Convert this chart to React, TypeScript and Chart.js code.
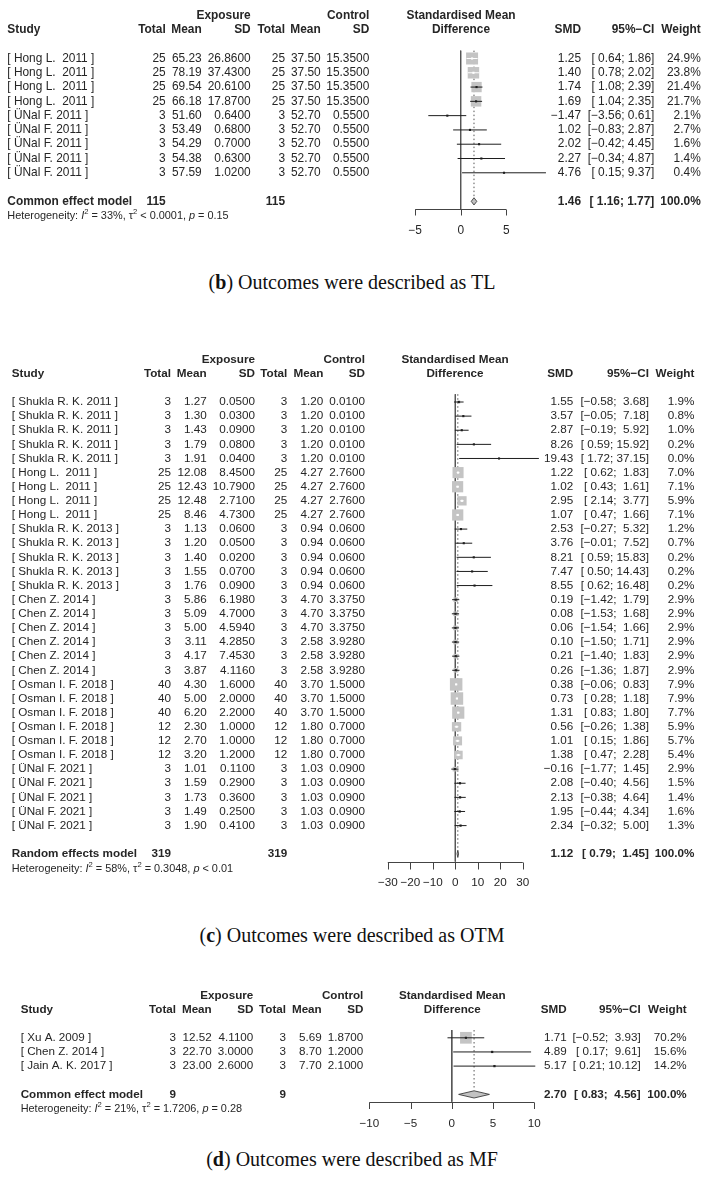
import React, { useEffect, useRef } from "react";
import { Chart, registerables } from "chart.js";

Chart.register(...registerables);

const FONT = '"Liberation Sans", Arial, Helvetica, sans-serif';
const INK = "#262626";

// ---------------- Panel (b): TL ----------------
const bStudies = ["[ Hong L.  2011 ]", "[ Hong L.  2011 ]", "[ Hong L.  2011 ]", "[ Hong L.  2011 ]", "[ ÜNal F. 2011 ]", "[ ÜNal F. 2011 ]", "[ ÜNal F. 2011 ]", "[ ÜNal F. 2011 ]", "[ ÜNal F. 2011 ]"];
const bExpTotal = [25, 25, 25, 25, 3, 3, 3, 3, 3];
const bExpMean = [65.23, 78.19, 69.54, 66.18, 51.6, 53.49, 54.29, 54.38, 57.59];
const bExpSD = [26.86, 37.43, 20.61, 17.87, 0.64, 0.68, 0.7, 0.63, 1.02];
const bCtrlTotal = [25, 25, 25, 25, 3, 3, 3, 3, 3];
const bCtrlMean = [37.5, 37.5, 37.5, 37.5, 52.7, 52.7, 52.7, 52.7, 52.7];
const bCtrlSD = [15.35, 15.35, 15.35, 15.35, 0.55, 0.55, 0.55, 0.55, 0.55];
const bSMD = [1.25, 1.4, 1.74, 1.69, -1.47, 1.02, 2.02, 2.27, 4.76];
const bLower = [0.64, 0.78, 1.08, 1.04, -3.56, -0.83, -0.42, -0.34, 0.15];
const bUpper = [1.86, 2.02, 2.39, 2.35, 0.61, 2.87, 4.45, 4.87, 9.37];
const bWeight = [24.9, 23.8, 21.4, 21.7, 2.1, 2.7, 1.6, 1.4, 0.4];
const bPooled = [1.46, 1.16, 1.77];
const bTotals = [115, 115];
const bTicks = [-5, 0, 5];
const bHet = ["33%", "< 0.0001", "= 0.15"];

// ---------------- Panel (c): OTM ----------------
const cStudies = [
  "[ Shukla R. K. 2011 ]", "[ Shukla R. K. 2011 ]", "[ Shukla R. K. 2011 ]", "[ Shukla R. K. 2011 ]", "[ Shukla R. K. 2011 ]",
  "[ Hong L.  2011 ]", "[ Hong L.  2011 ]", "[ Hong L.  2011 ]", "[ Hong L.  2011 ]",
  "[ Shukla R. K. 2013 ]", "[ Shukla R. K. 2013 ]", "[ Shukla R. K. 2013 ]", "[ Shukla R. K. 2013 ]", "[ Shukla R. K. 2013 ]",
  "[ Chen Z. 2014 ]", "[ Chen Z. 2014 ]", "[ Chen Z. 2014 ]", "[ Chen Z. 2014 ]", "[ Chen Z. 2014 ]", "[ Chen Z. 2014 ]",
  "[ Osman I. F. 2018 ]", "[ Osman I. F. 2018 ]", "[ Osman I. F. 2018 ]", "[ Osman I. F. 2018 ]", "[ Osman I. F. 2018 ]", "[ Osman I. F. 2018 ]",
  "[ ÜNal F. 2021 ]", "[ ÜNal F. 2021 ]", "[ ÜNal F. 2021 ]", "[ ÜNal F. 2021 ]", "[ ÜNal F. 2021 ]",
];
const cExpTotal = [3, 3, 3, 3, 3, 25, 25, 25, 25, 3, 3, 3, 3, 3, 3, 3, 3, 3, 3, 3, 40, 40, 40, 12, 12, 12, 3, 3, 3, 3, 3];
const cExpMean = [1.27, 1.3, 1.43, 1.79, 1.91, 12.08, 12.43, 12.48, 8.46, 1.13, 1.2, 1.4, 1.55, 1.76, 5.86, 5.09, 5.0, 3.11, 4.17, 3.87, 4.3, 5.0, 6.2, 2.3, 2.7, 3.2, 1.01, 1.59, 1.73, 1.49, 1.9];
const cExpSD = [0.05, 0.03, 0.09, 0.08, 0.04, 8.45, 10.79, 2.71, 4.73, 0.06, 0.05, 0.02, 0.07, 0.09, 6.198, 4.7, 4.594, 4.285, 7.453, 4.116, 1.6, 2.0, 2.2, 1.0, 1.0, 1.2, 0.11, 0.29, 0.36, 0.25, 0.41];
const cCtrlTotal = [3, 3, 3, 3, 3, 25, 25, 25, 25, 3, 3, 3, 3, 3, 3, 3, 3, 3, 3, 3, 40, 40, 40, 12, 12, 12, 3, 3, 3, 3, 3];
const cCtrlMean = [1.2, 1.2, 1.2, 1.2, 1.2, 4.27, 4.27, 4.27, 4.27, 0.94, 0.94, 0.94, 0.94, 0.94, 4.7, 4.7, 4.7, 2.58, 2.58, 2.58, 3.7, 3.7, 3.7, 1.8, 1.8, 1.8, 1.03, 1.03, 1.03, 1.03, 1.03];
const cCtrlSD = [0.01, 0.01, 0.01, 0.01, 0.01, 2.76, 2.76, 2.76, 2.76, 0.06, 0.06, 0.06, 0.06, 0.06, 3.375, 3.375, 3.375, 3.928, 3.928, 3.928, 1.5, 1.5, 1.5, 0.7, 0.7, 0.7, 0.09, 0.09, 0.09, 0.09, 0.09];
const cSMD = [1.55, 3.57, 2.87, 8.26, 19.43, 1.22, 1.02, 2.95, 1.07, 2.53, 3.76, 8.21, 7.47, 8.55, 0.19, 0.08, 0.06, 0.1, 0.21, 0.26, 0.38, 0.73, 1.31, 0.56, 1.01, 1.38, -0.16, 2.08, 2.13, 1.95, 2.34];
const cLower = [-0.58, -0.05, -0.19, 0.59, 1.72, 0.62, 0.43, 2.14, 0.47, -0.27, -0.01, 0.59, 0.5, 0.62, -1.42, -1.53, -1.54, -1.5, -1.4, -1.36, -0.06, 0.28, 0.83, -0.26, 0.15, 0.47, -1.77, -0.4, -0.38, -0.44, -0.32];
const cUpper = [3.68, 7.18, 5.92, 15.92, 37.15, 1.83, 1.61, 3.77, 1.66, 5.32, 7.52, 15.83, 14.43, 16.48, 1.79, 1.68, 1.66, 1.71, 1.83, 1.87, 0.83, 1.18, 1.8, 1.38, 1.86, 2.28, 1.45, 4.56, 4.64, 4.34, 5.0];
const cWeight = [1.9, 0.8, 1.0, 0.2, 0.0, 7.0, 7.1, 5.9, 7.1, 1.2, 0.7, 0.2, 0.2, 0.2, 2.9, 2.9, 2.9, 2.9, 2.9, 2.9, 7.9, 7.9, 7.7, 5.9, 5.7, 5.4, 2.9, 1.5, 1.4, 1.6, 1.3];
const cPooled = [1.12, 0.79, 1.45];
const cTotals = [319, 319];
const cTicks = [-30, -20, -10, 0, 10, 20, 30];
const cHet = ["58%", "= 0.3048", "< 0.01"];

// ---------------- Panel (d): MF ----------------
const dStudies = ["[ Xu A. 2009 ]", "[ Chen Z. 2014 ]", "[ Jain A. K. 2017 ]"];
const dExpTotal = [3, 3, 3];
const dExpMean = [12.52, 22.7, 23.0];
const dExpSD = [4.11, 3.0, 2.6];
const dCtrlTotal = [3, 3, 3];
const dCtrlMean = [5.69, 8.7, 7.7];
const dCtrlSD = [1.87, 1.2, 2.1];
const dSMD = [1.71, 4.89, 5.17];
const dLower = [-0.52, 0.17, 0.21];
const dUpper = [3.93, 9.61, 10.12];
const dWeight = [70.2, 15.6, 14.2];
const dPooled = [2.7, 0.83, 4.56];
const dTotals = [9, 9];
const dTicks = [-10, -5, 0, 5, 10];
const dHet = ["21%", "= 1.7206", "= 0.28"];

// ---------------- helpers ----------------
function fmt(v: number, d: number) {
  const s = Math.abs(v).toFixed(d);
  return (v < 0 ? "\u2212" : "") + s;
}
function pad(s: string, w: number) {
  return s.length >= w ? s : " ".repeat(w - s.length) + s;
}

const panelB = {
  studies: bStudies, expTotal: bExpTotal, expMean: bExpMean, expSD: bExpSD,
  ctrlTotal: bCtrlTotal, ctrlMean: bCtrlMean, ctrlSD: bCtrlSD,
  smd: bSMD, lower: bLower, upper: bUpper, weight: bWeight,
  pooled: bPooled, totals: bTotals, ticks: bTicks, het: bHet, model: "Common effect model",
  top: 0, height: 250, row0: 57.3, rowH: 14.4, axisRow: 10.55, summaryRow: 10, hetRow: 11,
  xLeft: 415.2, xRight: 506.2, font: 11.9, hetFont: 10.9, labelGap: 21, tickLen: 6, maxSide: 12,
  cols: { study: 7.3, expTotal: 165.7, expMean: 201.7, expSD: 250.7, ctrlTotal: 285, ctrlMean: 320.7, ctrlSD: 369.3, center: 461, smd: 581, ci: 654.3, weight: 700.7 },
};
const panelC = {
  studies: cStudies, expTotal: cExpTotal, expMean: cExpMean, expSD: cExpSD,
  ctrlTotal: cCtrlTotal, ctrlMean: cCtrlMean, ctrlSD: cCtrlSD,
  smd: cSMD, lower: cLower, upper: cUpper, weight: cWeight,
  pooled: cPooled, totals: cTotals, ticks: cTicks, het: cHet, model: "Random effects model",
  top: 330, height: 570, row0: 402, rowH: 14.12, axisRow: 32.55, summaryRow: 32, hetRow: 33.1,
  xLeft: 387.8, xRight: 522.8, font: 11.7, hetFont: 10.9, labelGap: 20, tickLen: 7, maxSide: 12.5,
  cols: { study: 11.7, expTotal: 171, expMean: 206.7, expSD: 255, ctrlTotal: 287.3, ctrlMean: 323.3, ctrlSD: 365, center: 455, smd: 573.3, ci: 649, weight: 694.3 },
};
const panelD = {
  studies: dStudies, expTotal: dExpTotal, expMean: dExpMean, expSD: dExpSD,
  ctrlTotal: dCtrlTotal, ctrlMean: dCtrlMean, ctrlSD: dCtrlSD,
  smd: dSMD, lower: dLower, upper: dUpper, weight: dWeight,
  pooled: dPooled, totals: dTotals, ticks: dTicks, het: dHet, model: "Common effect model",
  top: 960, height: 180, row0: 1037.8, rowH: 14.15, axisRow: 4.52, summaryRow: 4, hetRow: 5,
  xLeft: 369.3, xRight: 534.3, font: 11.65, hetFont: 10.9, labelGap: 21, tickLen: 6.5, maxSide: 11.7,
  cols: { study: 20.7, expTotal: 176, expMean: 211.7, expSD: 253.3, ctrlTotal: 286, ctrlMean: 321.7, ctrlSD: 363.3, center: 452.3, smd: 566.7, ci: 640.7, weight: 686.7 },
};

function makeConfig(p: any) {
  const rowMin = -3.5;
  const r0 = p.row0 - p.top;
  const padTop = r0 + rowMin * p.rowH;
  const padBottom = p.height - (r0 + p.axisRow * p.rowH);
  const tMin = p.ticks[0];
  const tMax = p.ticks[p.ticks.length - 1];
  const ppu = (p.xRight - p.xLeft) / (tMax - tMin);
  const maxW = Math.max(...p.weight);
  const side = p.weight.map((w: number) => (p.maxSide * w) / maxW);
  const inside = p.smd.map((_: number, i: number) => (p.upper[i] - p.lower[i]) * ppu < side[i]);
  const segs = (want: boolean) =>
    p.lower.flatMap((lo: number, i: number) =>
      inside[i] === want ? [{ x: lo, y: i }, { x: p.upper[i], y: i }, { x: null, y: null }] : []
    );

  const lowStrs = [...p.lower, p.pooled[1]].map((v: number) => fmt(v, 2));
  const upStrs = [...p.upper, p.pooled[2]].map((v: number) => fmt(v, 2));
  const wl = Math.max(...lowStrs.map((s: string) => s.length));
  const wh = Math.max(...upStrs.map((s: string) => s.length));
  const ciStr = (lo: number, hi: number) => `[${pad(fmt(lo, 2), wl)}; ${pad(fmt(hi, 2), wh)}]`;

  const plugin = {
    id: "forestTable",
    afterDatasetsDraw(chart: any) {
      const ctx = chart.ctx;
      const xs = chart.scales.x;
      const ys = chart.scales.y;
      const yS = ys.getPixelForValue(p.summaryRow);
      const h = 3.6;
      ctx.save();
      ctx.beginPath();
      ctx.moveTo(xs.getPixelForValue(p.pooled[1]), yS);
      ctx.lineTo(xs.getPixelForValue(p.pooled[0]), yS - h);
      ctx.lineTo(xs.getPixelForValue(p.pooled[2]), yS);
      ctx.lineTo(xs.getPixelForValue(p.pooled[0]), yS + h);
      ctx.closePath();
      ctx.fillStyle = "#c2c2c2";
      ctx.fill();
      ctx.strokeStyle = "#3c3c3c";
      ctx.lineWidth = 0.9;
      ctx.stroke();
      ctx.restore();
    },
    afterDraw(chart: any) {
      const ctx = chart.ctx;
      const xs = chart.scales.x;
      const ys = chart.scales.y;
      const c = p.cols;
      const y = (i: number) => ys.getPixelForValue(i);
      ctx.save();
      ctx.fillStyle = INK;
      ctx.textBaseline = "middle";
      const t = (s: string, x: number, yy: number, align: string, bold = false, size = p.font) => {
        ctx.font = `${bold ? "bold " : ""}${size}px ${FONT}`;
        ctx.textAlign = align;
        ctx.fillText(s, x, yy);
      };
      // headers
      const h1 = y(-3);
      const h2 = y(-2);
      t("Exposure", c.expSD, h1, "right", true);
      t("Control", c.ctrlSD, h1, "right", true);
      t("Standardised Mean", c.center, h1, "center", true);
      t("Study", c.study, h2, "left", true);
      t("Total", c.expTotal, h2, "right", true);
      t("Mean", c.expMean, h2, "right", true);
      t("SD", c.expSD, h2, "right", true);
      t("Total", c.ctrlTotal, h2, "right", true);
      t("Mean", c.ctrlMean, h2, "right", true);
      t("SD", c.ctrlSD, h2, "right", true);
      t("Difference", c.center, h2, "center", true);
      t("SMD", c.smd, h2, "right", true);
      t("95%\u2212CI", c.ci, h2, "right", true);
      t("Weight", c.weight, h2, "right", true);
      // rows
      p.studies.forEach((s: string, i: number) => {
        const yy = y(i);
        t(s, c.study, yy, "left");
        t(String(p.expTotal[i]), c.expTotal, yy, "right");
        t(fmt(p.expMean[i], 2), c.expMean, yy, "right");
        t(fmt(p.expSD[i], 4), c.expSD, yy, "right");
        t(String(p.ctrlTotal[i]), c.ctrlTotal, yy, "right");
        t(fmt(p.ctrlMean[i], 2), c.ctrlMean, yy, "right");
        t(fmt(p.ctrlSD[i], 4), c.ctrlSD, yy, "right");
        t(fmt(p.smd[i], 2), c.smd, yy, "right");
        t(ciStr(p.lower[i], p.upper[i]), c.ci, yy, "right");
        t(p.weight[i].toFixed(1) + "%", c.weight, yy, "right");
      });
      // summary
      const ys2 = y(p.summaryRow);
      t(p.model, c.study, ys2, "left", true);
      t(String(p.totals[0]), c.expTotal, ys2, "right", true);
      t(String(p.totals[1]), c.ctrlTotal, ys2, "right", true);
      t(fmt(p.pooled[0], 2), c.smd, ys2, "right", true);
      t(ciStr(p.pooled[1], p.pooled[2]), c.ci, ys2, "right", true);
      t("100.0%", c.weight, ys2, "right", true);
      // heterogeneity (rich text)
      const hy = y(p.hetRow);
      const fs = p.hetFont;
      const segsTxt: [string, string][] = [
        ["Heterogeneity: ", "n"], ["I", "i"], ["2", "s"], [" = " + p.het[0] + ", \u03c4", "n"], ["2", "s"],
        [" " + p.het[1] + ", ", "n"], ["p", "i"], [" " + p.het[2], "n"],
      ];
      let hx = c.study;
      ctx.textAlign = "left";
      segsTxt.forEach(([s, k]) => {
        const size = k === "s" ? fs * 0.7 : fs;
        ctx.font = `${k === "i" ? "italic " : ""}${size}px ${FONT}`;
        ctx.fillText(s, hx, k === "s" ? hy - fs * 0.38 : hy);
        hx += ctx.measureText(s).width;
      });
      // axis
      const ay = Math.round(chart.chartArea.bottom) + 0.5;
      const x0 = xs.getPixelForValue(tMin);
      const x1 = xs.getPixelForValue(tMax);
      ctx.strokeStyle = "#444";
      ctx.lineWidth = 1;
      ctx.beginPath();
      ctx.moveTo(x0, ay);
      ctx.lineTo(x1, ay);
      p.ticks.forEach((tv: number) => {
        const tx = Math.round(xs.getPixelForValue(tv)) + 0.5;
        ctx.moveTo(tx, ay);
        ctx.lineTo(tx, ay + p.tickLen);
      });
      ctx.stroke();
      p.ticks.forEach((tv: number) => {
        t(fmt(tv, 0), xs.getPixelForValue(tv), ay + p.labelGap, "center", false, p.font);
      });
      ctx.restore();
    },
  };

  return {
    type: "scatter",
    data: {
      datasets: [
        {
          type: "scatter",
          data: p.smd.map((v: number, i: number) => ({ x: v, y: i })),
          pointStyle: "rect",
          pointRadius: 1.5,
          backgroundColor: inside.map((b: boolean) => (b ? "#ffffff" : "#1e1e1e")),
          borderWidth: 0,
          clip: false,
        },
        {
          type: "line",
          data: segs(false),
          borderColor: "#1e1e1e",
          borderWidth: 1,
          pointRadius: 0,
          spanGaps: false,
          fill: false,
          clip: false,
        },
        {
          type: "line",
          data: segs(true),
          borderColor: "#ffffff",
          borderWidth: 1,
          pointRadius: 0,
          spanGaps: false,
          fill: false,
          clip: false,
        },
        {
          type: "scatter",
          data: p.smd.map((v: number, i: number) => ({ x: v, y: i })),
          pointStyle: "rect",
          pointRadius: side.map((s: number) => s / Math.SQRT2),
          backgroundColor: "#c4c4c4",
          borderWidth: 0,
          clip: false,
        },
        {
          type: "line",
          data: [{ x: p.pooled[0], y: -0.55 }, { x: p.pooled[0], y: p.summaryRow - 0.3 }],
          borderColor: "#555",
          borderWidth: 1,
          borderDash: [1.5, 2.5],
          pointRadius: 0,
          fill: false,
          clip: false,
        },
        {
          type: "line",
          data: [{ x: 0, y: -0.55 }, { x: 0, y: p.axisRow }],
          borderColor: "#555",
          borderWidth: 1,
          pointRadius: 0,
          fill: false,
          clip: false,
        },
      ],
    },
    options: {
      responsive: false,
      animation: false,
      devicePixelRatio: 1,
      events: [],
      layout: { padding: { left: p.xLeft, right: 712 - p.xRight, top: padTop, bottom: padBottom } },
      plugins: { legend: { display: false }, tooltip: { enabled: false } },
      scales: {
        x: { type: "linear", min: tMin, max: tMax, display: false, bounds: "data" },
        y: { type: "linear", min: rowMin, max: p.axisRow, reverse: true, display: false, bounds: "data" },
      },
    },
    plugins: [plugin],
  };
}

function ForestCanvas({ panel }: { panel: any }) {
  const ref = useRef<HTMLCanvasElement>(null);
  useEffect(() => {
    if (!ref.current) return;
    const chart = new Chart(ref.current, makeConfig(panel) as any);
    return () => chart.destroy();
  }, [panel]);
  return (
    <canvas
      ref={ref}
      width={712}
      height={panel.height}
      style={{ position: "absolute", left: 0, top: panel.top, width: 712, height: panel.height }}
    />
  );
}

function Caption({ top, letter, text }: { top: number; letter: string; text: string }) {
  return (
    <div
      style={{
        position: "absolute",
        left: 0,
        top,
        width: 704,
        height: 24,
        lineHeight: "24px",
        textAlign: "center",
        fontFamily: '"Liberation Serif", "Times New Roman", serif',
        fontSize: 20,
        color: "#111",
        whiteSpace: "nowrap",
      }}
    >
      (<b>{letter}</b>) {text}
    </div>
  );
}

export default function App() {
  return (
    <div style={{ position: "absolute", left: 0, top: 0, width: 712, height: 1180, background: "#fff", overflow: "hidden" }}>
      <ForestCanvas panel={panelB} />
      <Caption top={270} letter="b" text="Outcomes were described as TL" />
      <ForestCanvas panel={panelC} />
      <Caption top={923} letter="c" text="Outcomes were described as OTM" />
      <ForestCanvas panel={panelD} />
      <Caption top={1147} letter="d" text="Outcomes were described as MF" />
    </div>
  );
}
